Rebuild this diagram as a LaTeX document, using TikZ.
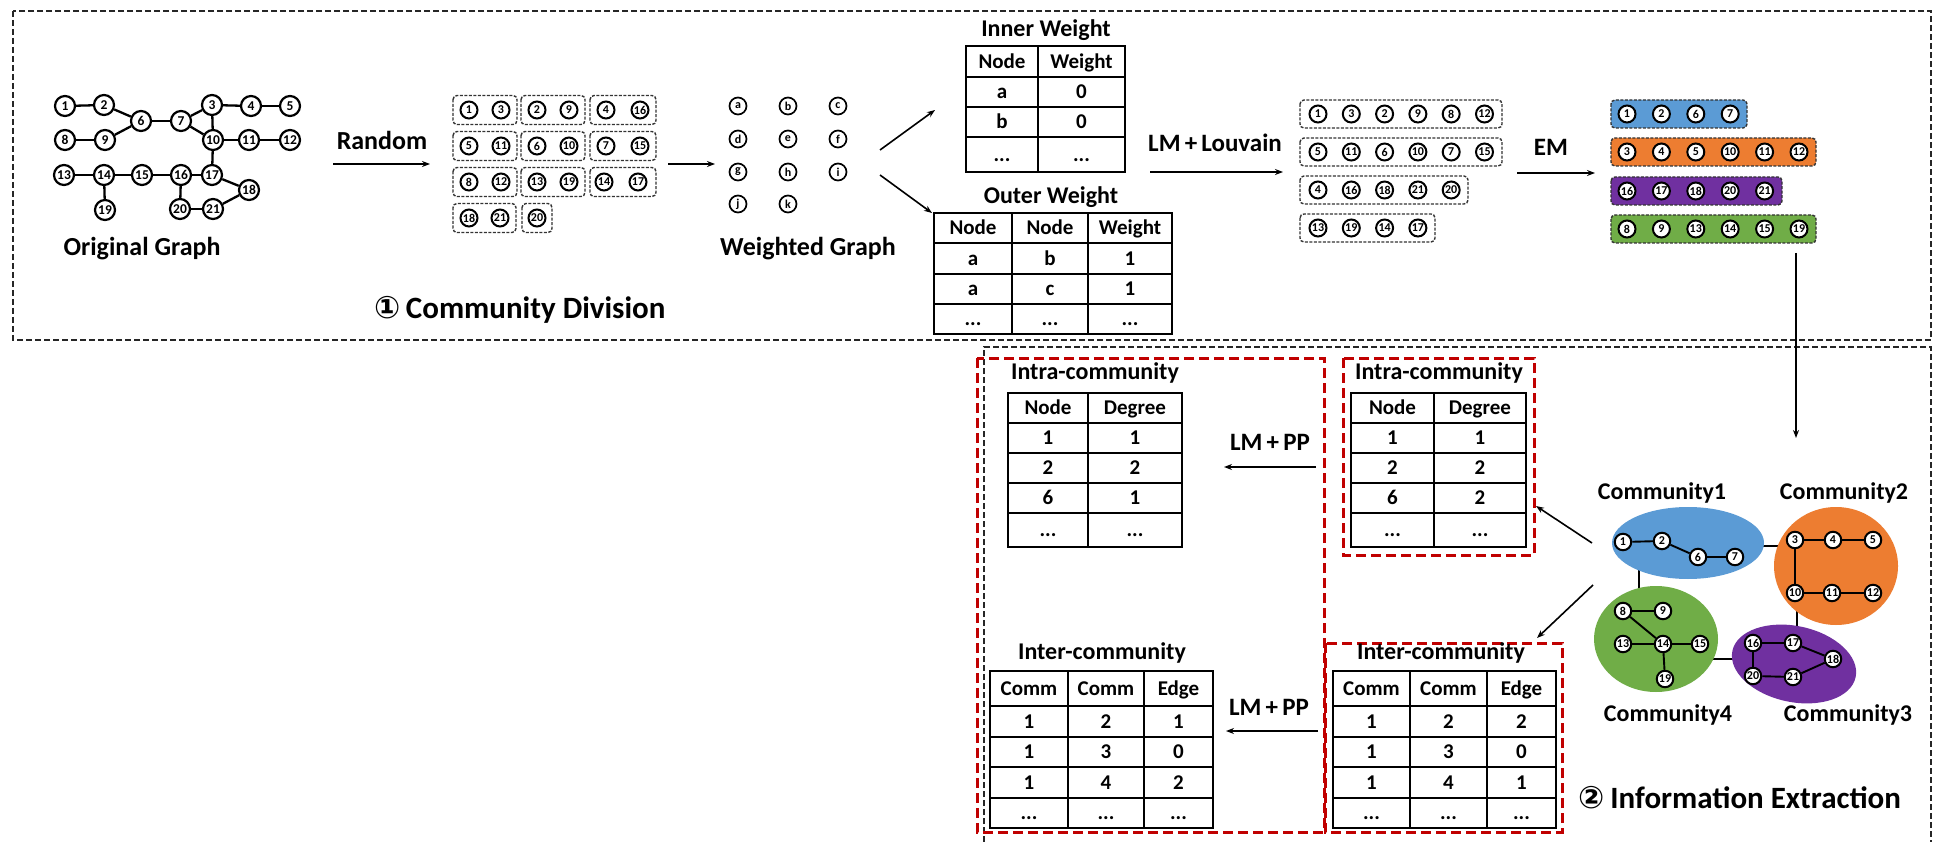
\documentclass[tikz,border=0pt]{standalone}
\usepackage{fontspec}
\setmainfont{Carlito}
\newfontfamily\symf{DejaVu Sans}
\usetikzlibrary{arrows.meta,shapes.geometric}
\definecolor{cblue}{HTML}{5B9BD5}
\definecolor{corange}{HTML}{ED7D31}
\definecolor{cpurple}{HTML}{7030A0}
\definecolor{cgreen}{HTML}{70AD47}
\definecolor{dred}{HTML}{C00000}
\newcommand\fs[1]{\fontsize{#1}{#1}\selectfont\bfseries}
\newcommand\ddd{...}
\tikzset{
 onode/.style={circle,draw,line width=2.2pt,minimum size=20pt,inner sep=0pt,fill=white,font=\fs{13.5}},
 gnode/.style={circle,draw,line width=2pt,minimum size=17pt,inner sep=0pt,fill=white,font=\fs{12}},
 cnode/.style={circle,draw,line width=2pt,minimum size=16.5pt,inner sep=0pt,fill=white,font=\fs{12}},
 wnode/.style={circle,draw,line width=1.7pt,minimum size=17pt,inner sep=0pt,font=\fs{12}},
 gedge/.style={line width=2.3pt},
 grp/.style={draw=black!80,line width=1.4pt,dash pattern=on 3pt off 1.5pt,rounded corners=4pt},
 bigframe/.style={draw=black!85,line width=1.8pt,dash pattern=on 6pt off 3pt},
 redbox/.style={draw=dred,line width=3pt,dash pattern=on 10pt off 5pt},
 arr/.style={line width=1.6pt,-{Stealth[length=8pt,width=6pt]}},
 lab/.style={font=\fs{26},inner sep=0pt},
 ttl/.style={font=\fs{24},inner sep=0pt},
 bigttl/.style={font=\fs{31},inner sep=0pt},
 tcell/.style={draw,line width=2.3pt,inner sep=0pt,font=\fs{21},text height=13.5pt,text depth=0pt},
 comm/.style={ellipse,inner sep=0pt},
}
\newcommand\trow[4]{\foreach \xa/\xb/\tx [count=\ci] in {#4}{\node[tcell,minimum width={\xb-\xa},minimum height={#3-#2}] (#1\ci) at ({(\xa+\xb)/2},{(#2+#3)/2}) {\tx};}}
\begin{document}
\begin{tikzpicture}[x=1pt,y=-1pt]
\fill[white] (0,0) rectangle (1936,842);
\useasboundingbox (0,0) rectangle (1936,842);

% frames
\draw[bigframe] (13,11) rectangle (1931,340);
\draw[bigframe] (984,860) -- (984,347) -- (1931,347) -- (1931,860);

% ---------- original graph
\foreach \n/\x/\y in {1/65/106,2/104/105,6/141/121,7/181/121,3/212/105,4/251/106,5/290/106,
 8/65/140,9/105/140,10/213/140,11/249/140,12/290/140,13/64/175,14/104/175,15/142/175,
 16/181/175,17/212/175,18/249/190,19/105/210,20/180/209,21/213/209}
 \node[onode] (o\n) at (\x,\y) {\n};
\foreach \a/\b in {1/2,2/6,9/6,8/9,6/7,7/3,7/10,3/4,4/5,3/10,10/11,11/12,10/17,13/14,14/15,15/16,16/17,14/19,16/20,20/21,21/18,17/18}
 \draw[gedge] (o\a) -- (o\b);
\node[lab] (ogl) at (142,249) {Original Graph};

% Random arrow
\coordinate (ra1) at (333,164); \coordinate (ra2) at (430,164);
\draw[arr] (ra1) -- (ra2);
\node[lab] (rnd) at (382,140) {Random};

% random groups
\foreach \y in {110,146,182}{
 \foreach \xa/\xb in {453/517,521/585,590/656}{\draw[grp] ({\xa},{\y-14.5}) rectangle ({\xb},{\y+14.5});}}
\draw[grp] (453,203.5) rectangle (516,232.5);
\draw[grp] (522,203.5) rectangle (552,232.5);
\foreach \n/\x/\y in {1/469/110,3/501/110,2/537/110,9/569/110,4/606/110,16/640/110,
 5/469/146,11/501/146,6/537/146,10/569/146,7/606/146,15/640/146,
 8/469/182,12/501/182,13/537/182,19/569/182,14/604/182,17/638/182,
 18/469/218,21/500/218,20/537/218}
 \node[gnode] (r\n) at (\x,\y) {\n};

\coordinate (ga1) at (668,164); \coordinate (ga2) at (715,164);
\draw[arr] (ga1) -- (ga2);

% weighted graph
\foreach \n/\x/\y in {a/738/106,b/788/106,c/838/106,d/738/139,e/788/139,f/838/139,g/738/172,h/788/172,i/838/172,j/738/204,k/788/204}
 \node[wnode] (w\n) at (\x,\y) {\n};
\node[lab] (wgl) at (808,249) {Weighted Graph};

\coordinate (wa1) at (880,150); \coordinate (wa2) at (935,110);
\coordinate (wb1) at (880,175); \coordinate (wb2) at (932,213);
\draw[arr] (wa1) -- (wa2);
\draw[arr] (wb1) -- (wb2);

% inner weight table
\node[ttl] (iwt) at (1046,30) {Inner Weight};
\trow{iwh}{46}{77}{966/1038/Node,1038/1125/Weight}
\trow{iwa}{77}{107}{966/1038/a,1038/1125/0}
\trow{iwb}{107}{137}{966/1038/b,1038/1125/0}
\trow{iwd}{137}{172}{966/1038/\ddd,1038/1125/\ddd}
% outer weight table
\node[ttl] (owt) at (1051,197) {Outer Weight};
\trow{owh}{213}{243}{934/1012/Node,1012/1088/Node,1088/1172/Weight}
\trow{owa}{243}{274}{934/1012/a,1012/1088/b,1088/1172/1}
\trow{owb}{274}{304}{934/1012/a,1012/1088/c,1088/1172/1}
\trow{owd}{304}{334}{934/1012/\ddd,1012/1088/\ddd,1088/1172/\ddd}

% LM+Louvain
\coordinate (la1) at (1150,172); \coordinate (la2) at (1283,172);
\draw[arr] (la1) -- (la2);
\node[font=\fs{25},inner sep=0pt] (lml) at (1215,143) {LM\,+\,Louvain};

\draw[grp] (1300,100) rectangle (1502,128);
\draw[grp] (1300,138) rectangle (1502,166);
\draw[grp] (1300,176) rectangle (1468,204);
\draw[grp] (1300,214) rectangle (1435,242);
\foreach \n [count=\k from 0] in {1,3,2,9,8,12} \node[gnode] (la\n) at ({1318+33.3*\k},114) {\n};
\foreach \n [count=\k from 0] in {5,11,6,10,7,15} \node[gnode] (lb\n) at ({1318+33.3*\k},152) {\n};
\foreach \n [count=\k from 0] in {4,16,18,21,20} \node[gnode] (lc\n) at ({1318+33.3*\k},190) {\n};
\foreach \n [count=\k from 0] in {13,19,14,17} \node[gnode] (ld\n) at ({1318+33.3*\k},228) {\n};

% EM
\coordinate (ea1) at (1517,173); \coordinate (ea2) at (1595,173);
\draw[arr] (ea1) -- (ea2);
\node[font=\fs{25},inner sep=0pt] (eml) at (1551,147) {EM};

\filldraw[grp,fill=cblue] (1611,100) rectangle (1747,128);
\filldraw[grp,fill=corange] (1611,138) rectangle (1816,166);
\filldraw[grp,fill=cpurple] (1611,177) rectangle (1782,205);
\filldraw[grp,fill=cgreen] (1611,215) rectangle (1816,243);
\foreach \n [count=\k from 0] in {1,2,6,7} \node[gnode] (ea\n) at ({1627+34.4*\k},114) {\n};
\foreach \n [count=\k from 0] in {3,4,5,10,11,12} \node[gnode] (eb\n) at ({1627+34.4*\k},152) {\n};
\foreach \n [count=\k from 0] in {16,17,18,20,21} \node[gnode] (ec\n) at ({1627+34.4*\k},191) {\n};
\foreach \n [count=\k from 0] in {8,9,13,14,15,19} \node[gnode] (ed\n) at ({1627+34.4*\k},229) {\n};

\coordinate (da1) at (1796,253); \coordinate (da2) at (1796,438);
\draw[arr] (da1) -- (da2);

% ---------- community graph
\coordinate (bo1) at (1740,546); \coordinate (bo2) at (1800,546);
\coordinate (bg1) at (1639,560); \coordinate (bg2) at (1639,600);
\coordinate (op1) at (1797,600); \coordinate (op2) at (1797,640);
\coordinate (gp1) at (1700,659); \coordinate (gp2) at (1750,659);
\draw[gedge,line width=1.6pt] (bo1) -- (bo2);
\draw[gedge,line width=1.6pt] (bg1) -- (bg2);
\draw[gedge,line width=1.6pt] (op1) -- (op2);
\draw[gedge,line width=1.6pt] (gp1) -- (gp2);
\node[comm,fill=cblue,minimum width=152pt,minimum height=72pt] (cb) at (1688,543) {};
\node[comm,fill=corange,minimum width=124pt,minimum height=118pt] (co) at (1836,566) {};
\node[comm,fill=cgreen,minimum width=124pt,minimum height=106pt] (cg) at (1656,639) {};
\node[comm,fill=cpurple,minimum width=126pt,minimum height=76pt,rotate=-12] (cp) at (1794,664) {};
\foreach \n/\x/\y in {1/1623/542,2/1662/541,6/1698/557,7/1735/557,3/1795/540,4/1833/540,5/1873/540,
 10/1795/593,11/1832/593,12/1873/593,8/1623/611,9/1663/611,13/1623/644,14/1663/644,15/1700/644,
 19/1665/679,16/1753/643,17/1793/643,18/1833/659,20/1753/676,21/1793/677}
 \node[cnode] (c\n) at (\x,\y) {\n};
\foreach \a/\b in {1/2,2/6,6/7,3/4,4/5,3/10,10/11,11/12,8/9,8/14,13/14,14/15,14/19,16/17,17/18,18/21,21/20,20/16}
 \draw[line width=1.9pt] (c\a) -- (c\b);
\node[ttl] (cl1) at (1662,493) {Community1};
\node[ttl] (cl2) at (1844,493) {Community2};
\node[ttl] (cl4) at (1668,715) {Community4};
\node[ttl] (cl3) at (1848,715) {Community3};

% arrows to tables
\coordinate (ca1) at (1592,543); \coordinate (ca2) at (1536,506);
\coordinate (cc1) at (1593,585); \coordinate (cc2) at (1537,638);
\draw[arr] (ca1) -- (ca2);
\draw[arr] (cc1) -- (cc2);

% ---------- red boxes
\draw[redbox] (977,358) rectangle (1324,832);
\draw[redbox] (1343,358) rectangle (1534,555);
\draw[redbox] (1325,643) rectangle (1562,832);

% intra tables
\node[ttl] (ilt) at (1095,373) {Intra-community};
\trow{ilh}{393}{423}{1008/1088/Node,1088/1182/Degree}
\trow{ila}{423}{453}{1008/1088/1,1088/1182/1}
\trow{ilb}{453}{483}{1008/1088/2,1088/1182/2}
\trow{ilc}{483}{513}{1008/1088/6,1088/1182/1}
\trow{ild}{513}{547}{1008/1088/\ddd,1088/1182/\ddd}
\node[ttl] (irt) at (1439,373) {Intra-community};
\trow{irh}{393}{423}{1351/1434/Node,1434/1526/Degree}
\trow{ira}{423}{453}{1351/1434/1,1434/1526/1}
\trow{irb}{453}{483}{1351/1434/2,1434/1526/2}
\trow{irc}{483}{513}{1351/1434/6,1434/1526/2}
\trow{ird}{513}{547}{1351/1434/\ddd,1434/1526/\ddd}

\coordinate (pa1) at (1316,467); \coordinate (pa2) at (1224,467);
\draw[arr] (pa1) -- (pa2);
\node[font=\fs{25},inner sep=0pt] (pp1) at (1270,442) {LM\,+\,PP};

% inter tables
\node[ttl] (elt) at (1102,653) {Inter-community};
\trow{elh}{671}{706}{990/1068/Comm,1068/1144/Comm,1144/1213/Edge}
\trow{ela}{706}{737}{990/1068/1,1068/1144/2,1144/1213/1}
\trow{elb}{737}{767}{990/1068/1,1068/1144/3,1144/1213/0}
\trow{elc}{767}{798}{990/1068/1,1068/1144/4,1144/1213/2}
\trow{eld}{798}{828}{990/1068/\ddd,1068/1144/\ddd,1144/1213/\ddd}
\node[ttl] (ert) at (1441,653) {Inter-community};
\trow{erh}{671}{706}{1333/1410/Comm,1410/1487/Comm,1487/1556/Edge}
\trow{era}{706}{737}{1333/1410/1,1410/1487/2,1487/1556/2}
\trow{erb}{737}{767}{1333/1410/1,1410/1487/3,1487/1556/0}
\trow{erc}{767}{798}{1333/1410/1,1410/1487/4,1487/1556/1}
\trow{erd}{798}{828}{1333/1410/\ddd,1410/1487/\ddd,1487/1556/\ddd}

\coordinate (pb1) at (1318,731); \coordinate (pb2) at (1226,731);
\draw[arr] (pb1) -- (pb2);
\node[font=\fs{25},inner sep=0pt] (pp2) at (1269,707) {LM\,+\,PP};

% section titles
\node[bigttl] (s1) at (520,310) {{\symf ①}\,Community Division};
\node[bigttl] (s2) at (1740,798) {{\symf ②}\,Information Extraction};
\end{tikzpicture}
\end{document}
